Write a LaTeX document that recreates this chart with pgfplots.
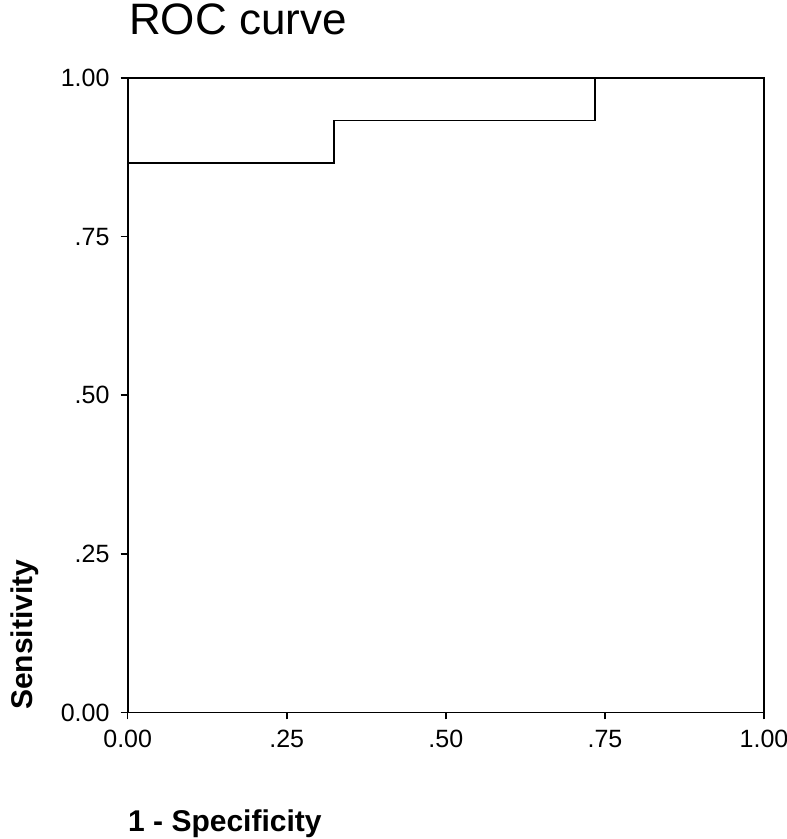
\documentclass[border=0pt]{standalone}
\usepackage{fontspec}
\setmainfont{Liberation Sans}
\usepackage{pgfplots}
\pgfplotsset{compat=1.18}

\begin{document}
\begin{tikzpicture}[x=1pt,y=1pt]
\path[use as bounding box] (0,0) rectangle (787,839);
\begin{axis}[
  at={(127.7pt,126.5pt)}, anchor=south west,
  width=636.3pt, height=634.4pt, scale only axis,
  xmin=0, xmax=1, ymin=0, ymax=1,
  axis line style={line width=1.8pt},
  xtick={0,0.25,0.5,0.75,1}, ytick={0,0.25,0.5,0.75,1},
  xticklabels={0.00,.25,.50,.75,1.00},
  yticklabels={0.00,.25,.50,.75,1.00},
  tick align=outside, major tick length=7pt,
  tick style={black, line width=1.6pt},
  xtick pos=bottom, ytick pos=left,
  tick label style={font=\fontsize{25}{28}\selectfont},
  yticklabel style={inner sep=0pt, xshift=-11pt},
  xticklabel style={inner sep=0pt, anchor=north, text height=18pt, text depth=0pt, yshift=-10pt},
  clip=false,
]
\addplot[black, line width=1.8pt, mark=none] coordinates {
(0,0)(0,0.8667)(0.324,0.8667)(0.324,0.9333)(0.735,0.9333)(0.735,1)(1,1)};
\end{axis}
\node[anchor=base west, inner sep=0pt, font=\fontsize{44}{48}\selectfont] at (129,804) {ROC curve};
\node[anchor=base west, inner sep=0pt, font=\bfseries\fontsize{30}{34}\selectfont] at (128,8) {1 - Specificity};
\node[anchor=base west, rotate=90, inner sep=0pt, font=\bfseries\fontsize{30}{34}\selectfont] at (32,129) {Sensitivity};
\end{tikzpicture}
\end{document}
